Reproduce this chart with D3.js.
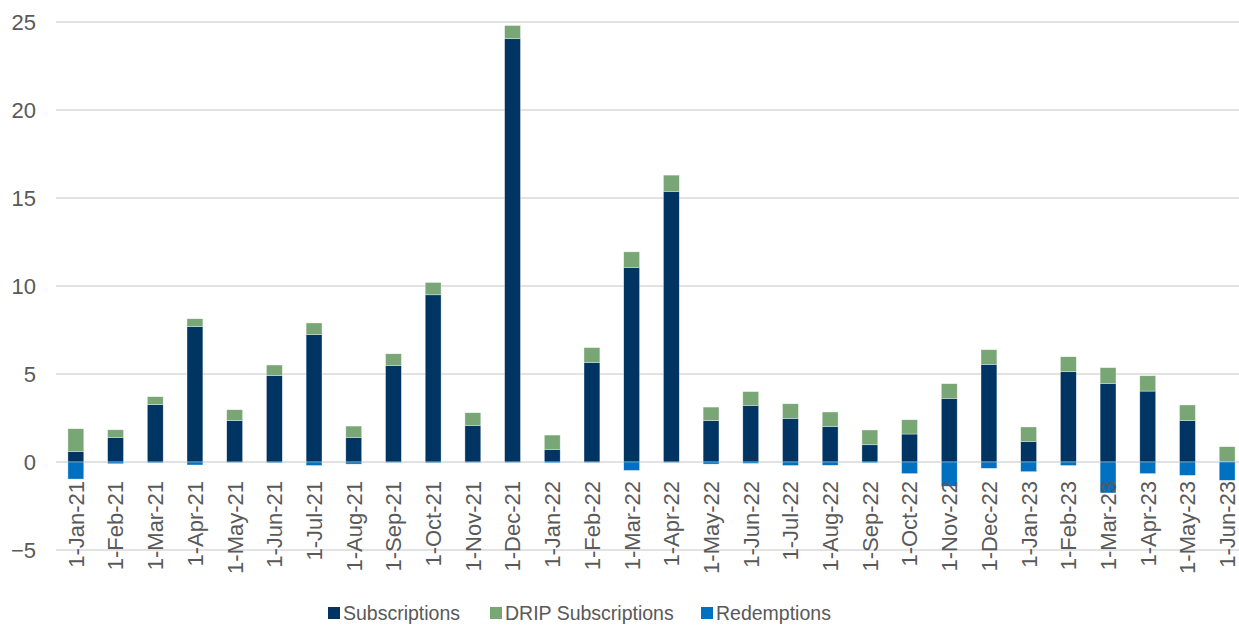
<!DOCTYPE html>
<html>
<head>
<meta charset="utf-8">
<script src="https://cdn.jsdelivr.net/npm/d3@7"></script>
<style>
	html, body { margin: 0; padding: 0; background: #fff; }
	svg { display: block; font-family: "Liberation Sans", Arial, sans-serif; }
	.grid line { stroke: #d9d9d9; stroke-width: 1.5; }
	.axis text { fill: #595959; }
</style>
</head>
<body>
<svg id="chart" width="1239" height="625"></svg>
<script>
'use strict';

// months shown on the x axis
const months = [
	'1-Jan-21', '1-Feb-21', '1-Mar-21', '1-Apr-21', '1-May-21', '1-Jun-21',
	'1-Jul-21', '1-Aug-21', '1-Sep-21', '1-Oct-21', '1-Nov-21', '1-Dec-21',
	'1-Jan-22', '1-Feb-22', '1-Mar-22', '1-Apr-22', '1-May-22', '1-Jun-22',
	'1-Jul-22', '1-Aug-22', '1-Sep-22', '1-Oct-22', '1-Nov-22', '1-Dec-22',
	'1-Jan-23', '1-Feb-23', '1-Mar-23', '1-Apr-23', '1-May-23', '1-Jun-23'
];

// series values
const subscriptions = [
	0.6, 1.4, 3.26, 7.7, 2.36, 4.92, 7.25, 1.4, 5.49, 9.5, 2.08, 24.05,
	0.72, 5.66, 11.06, 15.38, 2.35, 3.22, 2.48, 2.02, 0.98, 1.59, 3.62, 5.55,
	1.17, 5.13, 4.47, 4.03, 2.36, 0
];

const dripSubscriptions = [
	1.29, 0.43, 0.45, 0.44, 0.61, 0.59, 0.65, 0.64, 0.66, 0.7, 0.72, 0.75,
	0.81, 0.84, 0.88, 0.92, 0.77, 0.78, 0.83, 0.82, 0.84, 0.81, 0.83, 0.83,
	0.82, 0.85, 0.89, 0.87, 0.88, 0.87
];

const redemptions = [
	-0.97, -0.1, -0.05, -0.17, -0.03, -0.05, -0.2, -0.12, -0.03, -0.05, -0.03, -0.03,
	-0.05, -0.03, -0.48, -0.03, -0.12, -0.08, -0.2, -0.19, -0.05, -0.66, -1.38, -0.36,
	-0.55, -0.2, -1.76, -0.66, -0.76, -1.04
];

const seriesNames = ['Subscriptions', 'DRIP Subscriptions', 'Redemptions'];
const seriesColors = ['#003563', '#78a674', '#0070c0'];
const yTicks = [-5, 0, 5, 10, 15, 20, 25];

// build rows for the stack layout
const rows = months.map(function(m, i) {
	return {
		month: m,
		'Subscriptions': subscriptions[i],
		'DRIP Subscriptions': dripSubscriptions[i],
		'Redemptions': redemptions[i]
	};
});

const svg = d3.select('#chart');

const x = d3.scaleBand()
	.domain(months)
	.range([56, 1247])
	.paddingInner(0.6)
	.paddingOuter(0.3);

const y = d3.scaleLinear()
	.domain([-5, 25])
	.range([550, 22]);

const color = d3.scaleOrdinal()
	.domain(seriesNames)
	.range(seriesColors);

// horizontal gridlines
svg.append('g')
	.attr('class', 'grid')
	.selectAll('line')
	.data(yTicks)
	.enter()
	.append('line')
	.attr('x1', 56)
	.attr('x2', 1239)
	.attr('y1', function(d) { return y(d); })
	.attr('y2', function(d) { return y(d); });

// y axis labels
const yAxis = d3.axisLeft(y)
	.tickValues(yTicks)
	.tickSize(0)
	.tickPadding(0)
	.tickFormat(d3.format('d'));

svg.append('g')
	.attr('class', 'axis axis--y')
	.attr('transform', 'translate(36,0)')
	.call(yAxis)
	.call(function(g) { g.select('.domain').remove(); })
	.selectAll('text')
	.attr('font-size', 22)
	.attr('font-family', null);

// stacked bars, negatives below zero
const stack = d3.stack()
	.keys(seriesNames)
	.offset(d3.stackOffsetDiverging);

const layers = stack(rows);

svg.append('g')
	.selectAll('g')
	.data(layers)
	.enter()
	.append('g')
	.attr('fill', function(d) { return color(d.key); })
	.selectAll('rect')
	.data(function(d) { return d; })
	.enter()
	.append('rect')
	.attr('x', function(d) { return x(d.data.month); })
	.attr('width', x.bandwidth())
	.attr('y', function(d) { return y(Math.max(d[0], d[1])); })
	.attr('height', function(d) { return Math.abs(y(d[0]) - y(d[1])); })
	.attr('stroke', '#ffffff')
	.attr('stroke-opacity', 0.6)
	.attr('stroke-width', 0.6);

// x axis labels, rotated, hanging just under the zero line
const xAxis = d3.axisBottom(x)
	.tickSize(0)
	.tickPadding(0);

const xg = svg.append('g')
	.attr('class', 'axis axis--x')
	.attr('transform', 'translate(0,' + y(0) + ')')
	.call(xAxis);

xg.select('.domain').remove();

xg.selectAll('text')
	.attr('font-size', 22)
	.attr('font-family', null)
	.attr('text-anchor', 'end')
	.attr('dy', '0.36em')
	.attr('transform', 'translate(0,19) rotate(-90)')
	.attr('y', 0)
	.attr('x', 0);

// legend
const legendX = [328, 490, 701];
const legend = svg.append('g')
	.attr('class', 'legend')
	.selectAll('g')
	.data(seriesNames)
	.enter()
	.append('g')
	.attr('transform', function(d, i) { return 'translate(' + legendX[i] + ',607)'; });

legend.append('rect')
	.attr('width', 12)
	.attr('height', 12)
	.attr('fill', function(d) { return color(d); });

legend.append('text')
	.attr('x', 15)
	.attr('y', 6)
	.attr('dy', '0.36em')
	.attr('font-size', 19.5)
	.attr('fill', '#595959')
	.text(function(d) { return d; });
</script>
</body>
</html>
